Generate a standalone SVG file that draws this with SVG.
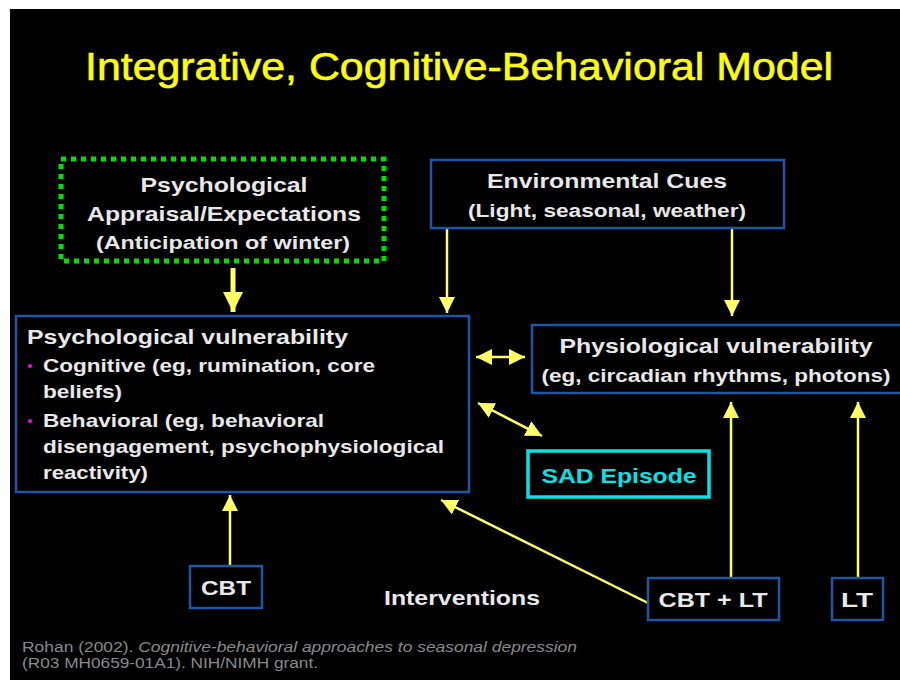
<svg xmlns="http://www.w3.org/2000/svg" width="900" height="680" viewBox="0 0 900 680">
<defs>
<style>
.box{fill:#000;stroke:#1E56A6;stroke-width:2.5}
.t{font-family:"Liberation Sans",Arial,sans-serif;font-weight:bold;fill:#E8E8E8}
.c{text-anchor:middle}
.ln{stroke:#FFFF66;stroke-width:2.5;fill:none}
.cite{font-family:"Liberation Sans",Arial,sans-serif;fill:#8A8A8A;font-size:14px}
</style>
<marker id="ah" viewBox="0 0 10 10" refX="10" refY="5" markerWidth="6.5" markerHeight="6.5" orient="auto-start-reverse" markerUnits="strokeWidth">
<path d="M0,0 L10,5 L0,10 Z" fill="#FFFF66"/>
</marker>
<marker id="ahb" viewBox="0 0 10 10" refX="10" refY="5" markerWidth="4.5" markerHeight="4" orient="auto" markerUnits="strokeWidth">
<path d="M0,0 L10,5 L0,10 Z" fill="#FFFF66"/>
</marker>
</defs>
<rect x="0" y="0" width="900" height="680" fill="#fff"/>
<rect x="10" y="9" width="890" height="671" fill="#000"/>

<text id="title" x="459" y="80" class="c" font-family="Liberation Sans,Arial,sans-serif" font-size="38" fill="#FFFF00" stroke="#FFFF00" stroke-width="0.6" textLength="748" lengthAdjust="spacingAndGlyphs">Integrative, Cognitive-Behavioral Model</text>

<g id="connectors">
<line x1="233" y1="268" x2="233" y2="312" stroke="#FFFF66" stroke-width="5" marker-end="url(#ahb)"/>
<line class="ln" x1="447" y1="229" x2="447" y2="313" marker-end="url(#ah)"/>
<line class="ln" x1="732" y1="229" x2="732" y2="316" marker-end="url(#ah)"/>
<line class="ln" x1="476" y1="357" x2="525" y2="357" marker-start="url(#ah)" marker-end="url(#ah)"/>
<line class="ln" x1="478" y1="403" x2="542" y2="436" marker-start="url(#ah)" marker-end="url(#ah)"/>
<line class="ln" x1="230" y1="566" x2="230" y2="495" marker-end="url(#ah)"/>
<line class="ln" x1="648" y1="603" x2="441" y2="500" marker-end="url(#ah)"/>
<line class="ln" x1="731" y1="578" x2="731" y2="402" marker-end="url(#ah)"/>
<line class="ln" x1="858" y1="578" x2="858" y2="402" marker-end="url(#ah)"/>
</g>

<g id="appraisal">
<rect x="61" y="159" width="323" height="102" fill="#000" stroke="#00E000" stroke-width="5" stroke-dasharray="5 5"/>
<text class="t c" x="224" y="192" font-size="21" textLength="167" lengthAdjust="spacingAndGlyphs">Psychological</text>
<text class="t c" x="224" y="221" font-size="21" textLength="274" lengthAdjust="spacingAndGlyphs">Appraisal/Expectations</text>
<text class="t c" x="223" y="249" font-size="18" textLength="254" lengthAdjust="spacingAndGlyphs">(Anticipation of winter)</text>
</g>

<g id="env">
<rect class="box" x="431" y="160" width="353" height="68"/>
<text class="t c" x="607" y="188" font-size="21" textLength="240" lengthAdjust="spacingAndGlyphs">Environmental Cues</text>
<text class="t c" x="607" y="217" font-size="18" textLength="278" lengthAdjust="spacingAndGlyphs">(Light, seasonal, weather)</text>
</g>

<g id="psych">
<rect class="box" x="16" y="316" width="453" height="176"/>
<text class="t" x="27" y="344" font-size="21" textLength="321" lengthAdjust="spacingAndGlyphs">Psychological vulnerability</text>
<circle cx="30" cy="366" r="2" fill="#FF00FF"/>
<text class="t" x="43" y="372" font-size="19" textLength="332" lengthAdjust="spacingAndGlyphs">Cognitive (eg, rumination, core</text>
<text class="t" x="43" y="398" font-size="19" textLength="79" lengthAdjust="spacingAndGlyphs">beliefs)</text>
<circle cx="30" cy="421" r="2" fill="#FF00FF"/>
<text class="t" x="43" y="427" font-size="19" textLength="281" lengthAdjust="spacingAndGlyphs">Behavioral (eg, behavioral</text>
<text class="t" x="43" y="453" font-size="19" textLength="401" lengthAdjust="spacingAndGlyphs">disengagement, psychophysiological</text>
<text class="t" x="43" y="479" font-size="19" textLength="105" lengthAdjust="spacingAndGlyphs">reactivity)</text>
</g>

<g id="physio">
<rect class="box" x="532" y="325" width="372" height="68"/>
<text class="t c" x="716" y="353" font-size="21" textLength="313" lengthAdjust="spacingAndGlyphs">Physiological vulnerability</text>
<text class="t c" x="716" y="382" font-size="18" textLength="349" lengthAdjust="spacingAndGlyphs">(eg, circadian rhythms, photons)</text>
</g>

<g id="sad">
<rect x="528" y="451" width="181" height="46" fill="#000" stroke="#00E5E5" stroke-width="3.5"/>
<text class="c" x="619" y="483" font-family="Liberation Sans,Arial,sans-serif" font-weight="bold" font-size="21" fill="#00E5E5" textLength="155" lengthAdjust="spacingAndGlyphs">SAD Episode</text>
</g>

<g id="cbt">
<rect class="box" x="190" y="566" width="72" height="42"/>
<text class="t c" x="226" y="595" font-size="20" textLength="50" lengthAdjust="spacingAndGlyphs">CBT</text>
</g>

<g id="interventions">
<text class="t c" x="462" y="605" font-size="21" textLength="156" lengthAdjust="spacingAndGlyphs">Interventions</text>
</g>

<g id="cbtlt">
<rect class="box" x="648" y="578" width="131" height="42"/>
<text class="t c" x="713" y="607" font-size="20" textLength="109" lengthAdjust="spacingAndGlyphs">CBT + LT</text>
</g>

<g id="lt">
<rect class="box" x="832" y="578" width="51" height="42"/>
<text class="t c" x="857" y="607" font-size="20" textLength="32" lengthAdjust="spacingAndGlyphs">LT</text>
</g>

<g id="citation">
<text class="cite" x="22" y="652" textLength="555" lengthAdjust="spacingAndGlyphs">Rohan (2002). <tspan font-style="italic">Cognitive-behavioral approaches to seasonal depression</tspan></text>
<text class="cite" x="22" y="668" textLength="296" lengthAdjust="spacingAndGlyphs">(R03 MH0659-01A1). NIH/NIMH grant.</text>
</g>
</svg>
